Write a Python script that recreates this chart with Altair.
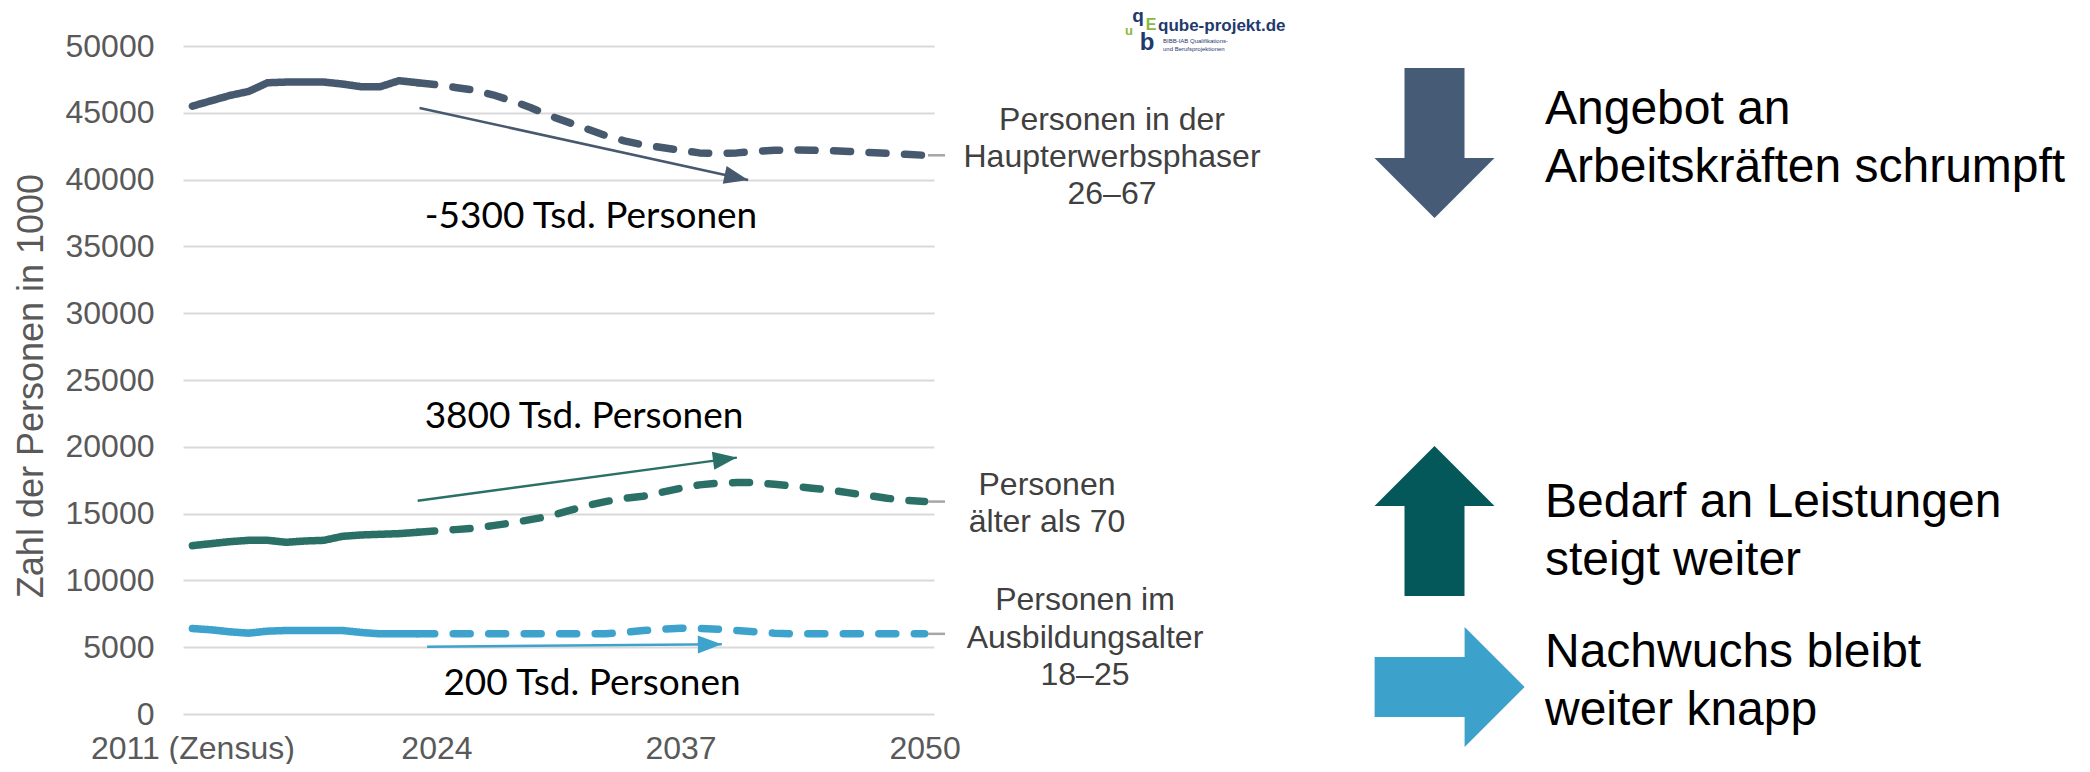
import altair as alt
import pandas as pd

# ---------------- data ----------------
years = list(range(2011, 2051))
last_observed = 2023

haupt = [45500, 45900, 46300, 46600, 47250, 47300, 47300, 47300, 47150, 46950,
         46950, 47400, 47250, 47100, 46900, 46700, 46350, 45900, 45400, 44800,
         44300, 43800, 43300, 42900, 42600, 42400, 42200, 42000, 41950, 42000,
         42100, 42200, 42220, 42200, 42160, 42100, 42030, 41960, 41890, 41820]
alter70 = [12600, 12750, 12900, 13000, 13000, 12850, 12950, 13000, 13300, 13400,
           13450, 13500, 13600, 13700, 13800, 13900, 14100, 14300, 14550, 14800,
           15200, 15600, 15900, 16150, 16300, 16600, 16900, 17150, 17280, 17320,
           17320, 17200, 17050, 16900, 16750, 16550, 16350, 16150, 16000, 15900]
ausbildung = [6400, 6300, 6150, 6050, 6200, 6250, 6250, 6250, 6250, 6100,
              6000, 6000, 6000, 6000, 6000, 6000, 6000, 6000, 6000, 6000,
              6000, 6000, 6000, 6100, 6250, 6350, 6420, 6400, 6350, 6250,
              6150, 6050, 6000, 6000, 6000, 6000, 6000, 6000, 6000, 6000]

series_names = ["Haupterwerbsphase", "Älter als 70", "Ausbildungsalter"]
series_colors = ["#46596F", "#2B7067", "#3DA3CC"]

# change arrows (start / end in data coordinates)
change_labels = ["-5300 Tsd. Personen", "3800 Tsd. Personen", "200 Tsd. Personen"]
arrow_start_year = [2023.1, 2023.0, 2023.5]
arrow_start_val = [45360, 15970, 5040]
arrow_end_year = [2040.6, 2040.0, 2039.2]
arrow_end_val = [39970, 19190, 5220]
arrow_angle = [12.3, 352.4, 359.5]

x_ticks = [2011, 2024, 2037, 2050]
y_ticks = list(range(0, 50001, 5000))

# ---------------- tables ----------------
rows = []
for name, vals in zip(series_names, [haupt, alter70, ausbildung]):
    for yr, v in zip(years, vals):
        if yr <= last_observed:
            rows.append(dict(year=yr, value=v, series=name, phase="Ist"))
        if yr >= last_observed:
            rows.append(dict(year=yr, value=v, series=name, phase="Projektion"))
df = pd.DataFrame(rows)

arrows = pd.DataFrame(dict(series=series_names, label=change_labels,
                           year=arrow_start_year, value=arrow_start_val,
                           year2=arrow_end_year, value2=arrow_end_val,
                           angle=arrow_angle))
ends = pd.DataFrame(dict(series=series_names,
                         value=[haupt[-1], alter70[-1], ausbildung[-1]]))

FONT = "Liberation Sans"
xscale = alt.Scale(domain=[2010.5, 2050.5], nice=False, zero=False)
yscale = alt.Scale(domain=[0, 50000], nice=False)
cscale = alt.Scale(domain=series_names, range=series_colors)

x_axis = alt.Axis(values=x_ticks, format="d",
                  labelExpr="datum.value == 2011 ? '2011 (Zensus)' : datum.label",
                  grid=False, domain=False, ticks=False, title=None,
                  labelFont=FONT, labelFontSize=32, labelColor="#595959",
                  labelPadding=19, labelLimit=0, labelOverlap=False)
y_axis = alt.Axis(values=y_ticks, format="d", grid=True, gridColor="#D9D9D9",
                  gridWidth=2, domain=False, ticks=False,
                  labelFont=FONT, labelFontSize=32, labelColor="#595959",
                  labelPadding=29,
                  title="Zahl der Personen in 1000", titleFont=FONT,
                  titleFontSize=36, titleColor="#595959", titleFontWeight="normal",
                  titleX=-152, titleY=339.5, titleAngle=270,
                  titleAlign="center", titleBaseline="middle")

lines = alt.Chart(df).mark_line(strokeWidth=7.5, strokeCap="round", strokeJoin="round").encode(
    x=alt.X("year:Q", scale=xscale, axis=x_axis),
    y=alt.Y("value:Q", scale=yscale, axis=y_axis),
    color=alt.Color("series:N", scale=cscale, legend=None),
    strokeDash=alt.StrokeDash("phase:N", scale=alt.Scale(domain=["Ist", "Projektion"],
                                                         range=[[1, 0], [17, 18.5]]), legend=None),
    detail="phase:N",
)

leaders = alt.Chart(ends).mark_rule(color="#A6A6A6", strokeWidth=2.5).encode(
    x=alt.value(745), x2=alt.value(762),
    y=alt.Y("value:Q", scale=yscale, axis=y_axis),
)

arrow_lines = alt.Chart(arrows).mark_rule(strokeWidth=2.5).encode(
    x=alt.X("year:Q", scale=xscale, axis=x_axis),
    x2="year2:Q",
    y=alt.Y("value:Q", scale=yscale, axis=y_axis),
    y2="value2:Q",
    color=alt.Color("series:N", scale=cscale, legend=None),
)
arrow_heads = alt.Chart(arrows).mark_point(shape="M0,0 L-2,-0.75 L-2,0.75 Z", filled=True,
                                           size=576, opacity=1, strokeWidth=0).encode(
    x=alt.X("year2:Q", scale=xscale, axis=x_axis),
    y=alt.Y("value2:Q", scale=yscale, axis=y_axis),
    angle=alt.Angle("angle:Q", scale=None),
    color=alt.Color("series:N", scale=cscale, legend=None),
)

one = alt.Data(values=[{}])


def txt(text, x, y, size, color="#000000", font=FONT, align="center", lh=None,
        weight="normal"):
    kw = dict(text=text, fontSize=size, color=color, font=font, align=align,
              baseline="alphabetic", fontWeight=weight)
    if lh is not None:
        kw["lineHeight"] = lh
    return alt.Chart(one).mark_text(**kw).encode(x=alt.value(x), y=alt.value(y))


def big_arrow(path, x, y, color):
    return alt.Chart(one).mark_point(shape=path, size=22500, filled=True, opacity=1,
                                     strokeWidth=0, color=color).encode(
        x=alt.value(x), y=alt.value(y))


labels = [
    txt(["Personen in der", "Haupterwerbsphaser", "26–67"], 929, 84, 32, "#404040", lh=37),
    txt(["Personen", "älter als 70"], 864, 449, 32, "#404040", lh=37),
    txt(["Personen im", "Ausbildungsalter", "18–25"], 902, 564, 32, "#404040", lh=37.5),
    txt(change_labels[0], 408, 182, 37, font="Lato"),
    txt(change_labels[1], 401, 382, 37, font="Lato"),
    txt(change_labels[2], 409, 649, 37, font="Lato"),
    txt(["Angebot an", "Arbeitskräften schrumpft"], 1362, 78, 48, align="left", lh=58),
    txt(["Bedarf an Leistungen", "steigt weiter"], 1362, 471, 48, align="left", lh=58),
    txt(["Nachwuchs bleibt", "weiter knapp"], 1362, 621, 48, align="left", lh=58),
    # logo
    txt("q", 955, -24, 19, "#1F3A6E", weight="bold"),
    txt("u", 946, -11, 13, "#8DB63C", weight="bold"),
    txt("b", 964, 4, 24, "#1F3A6E", weight="bold"),
    txt("E", 968, -16, 16, "#8DB63C", weight="bold"),
    txt("qube-projekt.de", 975, -15, 17, "#1F3A6E", align="left", weight="bold"),
    txt("BIBB-IAB Qualifikations-", 980, -3, 6, "#1F3A6E", align="left"),
    txt("und Berufsprojektionen", 980, 5, 6, "#1F3A6E", align="left"),
]

arrows_big = [
    big_arrow("M-0.4,-1 L0.4,-1 L0.4,0.2 L0.8,0.2 L0,1 L-0.8,0.2 L-0.4,0.2 Z",
              1251.5, 97, "#465B75"),
    big_arrow("M0,-1 L0.8,-0.2 L0.4,-0.2 L0.4,1 L-0.4,1 L-0.4,-0.2 L-0.8,-0.2 Z",
              1251.5, 475, "#05585A"),
    big_arrow("M-1,-0.4 L0.2,-0.4 L0.2,-0.8 L1,0 L0.2,0.8 L0.2,0.4 L-1,0.4 Z",
              1266.6, 641, "#3DA2CB"),
]

chart = alt.layer(lines, leaders, arrow_lines, arrow_heads, *labels, *arrows_big).properties(
    width=751, height=668,
    padding={"left": 175, "top": 38, "right": 1136, "bottom": 50},
    autosize=alt.AutoSizeParams(type="none"),
    background="white",
).configure_view(stroke=None)

chart.save("out.html", embed_options={"renderer": "svg", "actions": False})
